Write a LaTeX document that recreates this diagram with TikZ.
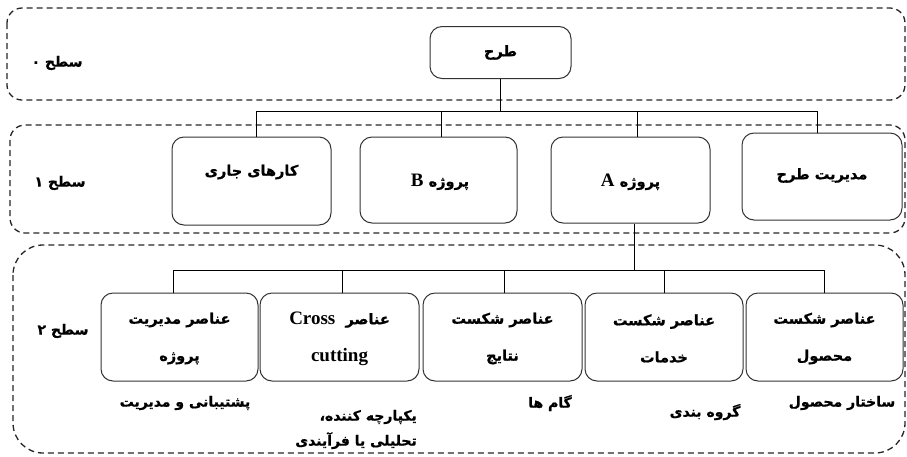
\documentclass[tikz,border=0pt]{standalone}
\usepackage{fontspec}
\TeXXeTstate=1
\newfontfamily\persianfont[Script=Arabic, BoldFeatures={FakeBold=0.8}]{DejaVu Sans}
\newfontfamily\latinfont{Liberation Serif}
\newcommand\faR[1]{\beginR #1\endR}
\newcommand\latbig[1]{{\latinfont\bfseries\fontsize{19}{19}\selectfont #1}}

\begin{document}
\begin{tikzpicture}[x=1pt,y=-1pt,
  lvl/.style={draw=black!85, line width=1.3pt, dash pattern=on 6pt off 4pt, rounded corners=#1},
  lvl/.default=15pt,
  box/.style={draw=black!80, line width=1pt, rounded corners=12pt, fill=white, inner sep=0pt},
  wire/.style={draw=black, line width=0.9pt},
  txt/.style={font=\persianfont\bfseries\fontsize{14.5}{16}\selectfont, inner sep=0pt, align=center},
  twoline/.style={font=\persianfont\bfseries\fontsize{14.5}{37}\selectfont, inner sep=0pt, align=center},
  note/.style={font=\persianfont\bfseries\fontsize{14}{25}\selectfont, inner sep=0pt},
  lab/.style={font=\persianfont\bfseries\fontsize{14}{16}\selectfont, inner sep=0pt}
]
\useasboundingbox (0,0) rectangle (907,456);

% level frames
\draw[lvl=15pt] (7,8) rectangle (905,100);
\draw[lvl=15pt] (10,125) rectangle (905,233);
\draw[lvl=30pt] (13,245) rectangle (905,453);

% level titles
\node[lab] (l0) at (57,63) {\faR{سطح ۰}};
\node[lab] (l1) at (60,183) {\faR{سطح ۱}};
\node[lab] (l2) at (63,331) {\faR{سطح ۲}};

% junction points of the trees
\coordinate (hub0) at (500.5,111);
\coordinate (hub1) at (634,270);

% level 0
\node[box, minimum width=141pt, minimum height=52pt] (root) at (500.5,52.5) {};

% level 1
\node[box, minimum width=159pt, minimum height=88pt] (jari)  at (251.5,181) {};
\node[box, minimum width=157pt, minimum height=86pt] (bproj) at (438.5,180) {};
\node[box, minimum width=159pt, minimum height=86pt] (aproj) at (630.5,180) {};
\node[box, minimum width=160pt, minimum height=87pt] (mod)   at (822,176.5) {};

% level 2
\node[box, minimum width=157pt, minimum height=88pt] (m1) at (179.5,337) {};
\node[box, minimum width=159pt, minimum height=88pt] (m2) at (339.5,337) {};
\node[box, minimum width=159pt, minimum height=88pt] (m3) at (502.5,337) {};
\node[box, minimum width=158pt, minimum height=88pt] (m4) at (664,337) {};
\node[box, minimum width=157pt, minimum height=88pt] (m5) at (824.5,337) {};

% connectors
\draw[wire] (root.south) -- (hub0);
\draw[wire] ([xshift=4.5pt]jari.north) |- (hub0);
\draw[wire] ([xshift=2.5pt]bproj.north) |- (hub0);
\draw[wire] ([xshift=6.5pt]aproj.north) |- (hub0);
\draw[wire] ([xshift=-5pt]mod.north) |- (hub0);

\draw[wire] ([xshift=3.5pt]aproj.south) -- (hub1);
\draw[wire] ([xshift=-6.5pt]m1.north) |- (hub1);
\draw[wire] ([xshift=2.5pt]m2.north) |- (hub1);
\draw[wire] ([xshift=1.5pt]m3.north) |- (hub1);
\draw[wire] (m4.north) |- (hub1);
\draw[wire] ([xshift=-0.5pt]m5.north) |- (hub1);

% box texts
\node[txt] (rootT) at (root.center) {\faR{طرح}};
\node[txt] (jariT) at ([yshift=9pt]jari.center) {\faR{کارهای جاری}};
\node[txt] (bprojT) at ([xshift=1.5pt,yshift=-2pt]bproj.center) {\faR{پروژه \latbig{B}}};
\node[txt] (aprojT) at ([yshift=-2pt]aproj.center) {\faR{پروژه \latbig{A}}};
\node[txt] (modT) at ([yshift=1pt]mod.center) {\faR{مدیریت طرح}};

\node[twoline] (m1T) at ([yshift=-1.5pt]m1.center) {\faR{عناصر مدیریت}\\\faR{پروژه}};
\node[twoline] (m2T) at ([yshift=-1.5pt]m2.center) {\faR{عناصر\ \ \latbig{Cross}}\\\latbig{cutting}};
\node[twoline] (m3T) at ([yshift=-1.5pt]m3.center) {\faR{عناصر شکست}\\\faR{نتایج}};
\node[twoline] (m4T) at ([yshift=-1.5pt]m4.center) {\faR{عناصر شکست}\\\faR{خدمات}};
\node[twoline] (m5T) at ([yshift=-1.5pt]m5.center) {\faR{عناصر شکست}\\\faR{محصول}};

% notes under the level 2 boxes
\node[note] (n1) at (185,403) {\faR{پشتیبانی و مدیریت}};
\node[note, align=right, anchor=east] (n2) at (417,429.5) {\faR{یکپارچه کننده،}\\\faR{تحلیلی یا فرآیندی}};
\node[note] (n3) at (550,403) {\faR{گام ها}};
\node[note] (n4) at (705,412) {\faR{گروه بندی}};
\node[note] (n5) at (842,403) {\faR{ساختار محصول}};
\end{tikzpicture}
\end{document}
